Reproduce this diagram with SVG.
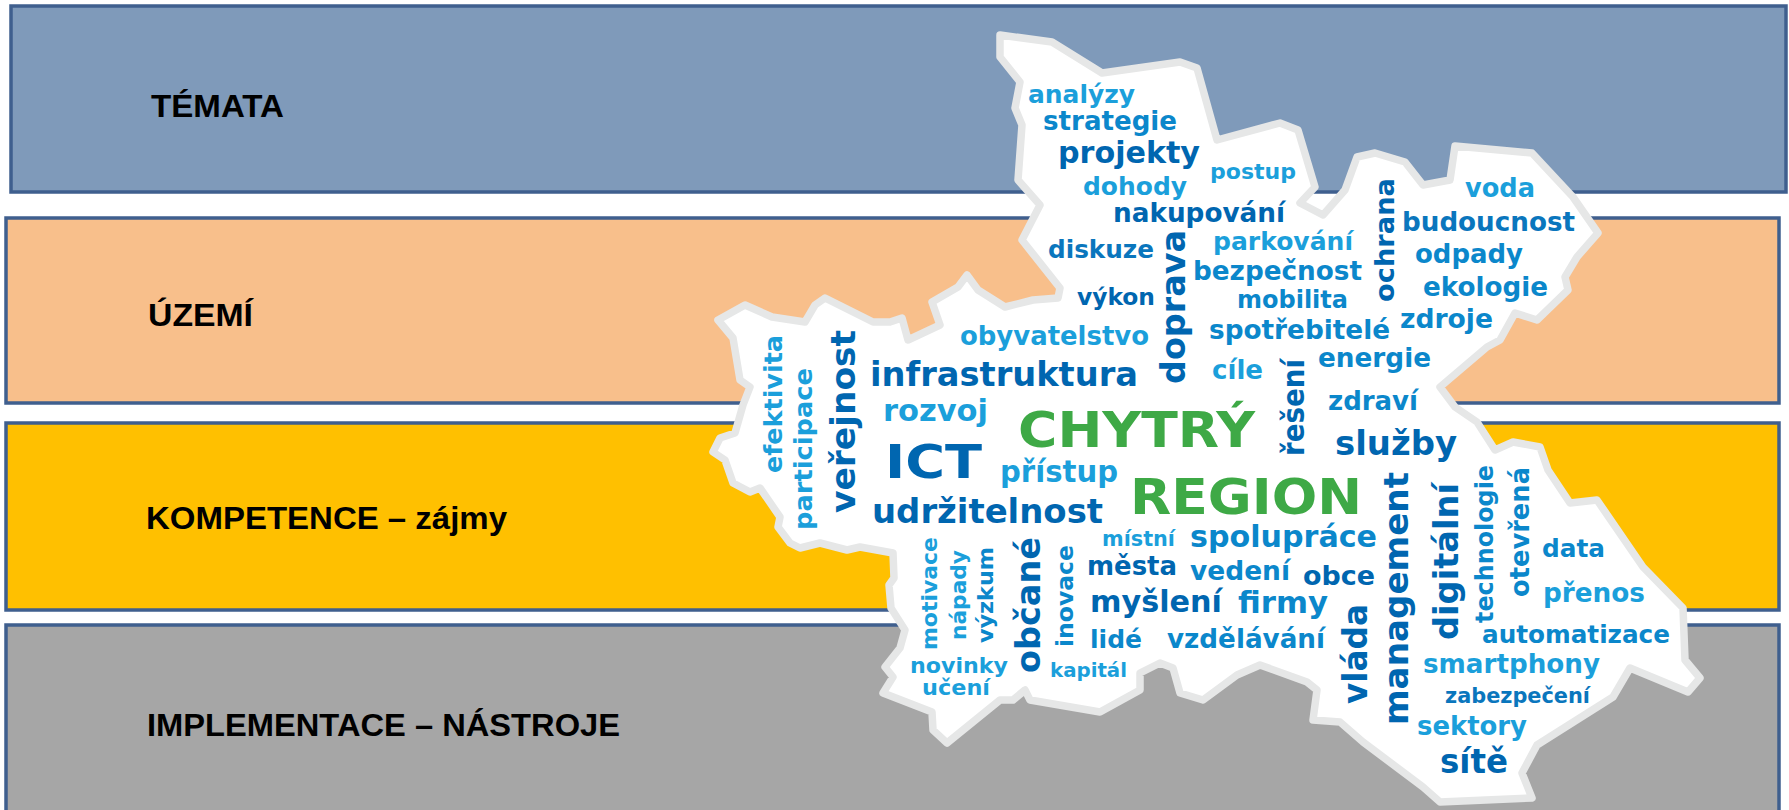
<svg xmlns="http://www.w3.org/2000/svg" width="1789" height="810" viewBox="0 0 1789 810">
<style>
.band{stroke:#3f5f8e;stroke-width:3.5}
.lbl{font-family:"Liberation Sans",Arial,sans-serif;font-weight:bold;font-size:32px;fill:#000}
.w{font-family:"DejaVu Sans",Verdana,sans-serif;font-weight:bold}
.L{fill:#1b9fdb}.M{fill:#0b87cb}.D2{fill:#0a76bd}.D{fill:#0066b0}.G{fill:#3ea946}
</style>
<rect width="1789" height="810" fill="#ffffff"/>
<g id="band-temata"><rect class="band" x="11" y="6" width="1775" height="186" fill="#7f9aba"/><text class="lbl" x="151" y="117" textLength="133" lengthAdjust="spacingAndGlyphs">TÉMATA</text></g>
<g id="band-uzemi"><rect class="band" x="6" y="218" width="1773" height="185" fill="#f8bf8b"/><text class="lbl" x="148" y="326" textLength="105" lengthAdjust="spacingAndGlyphs">ÚZEMÍ</text></g>
<g id="band-kompetence"><rect class="band" x="6" y="423" width="1773" height="187" fill="#ffc000"/><text class="lbl" x="146" y="529" textLength="361" lengthAdjust="spacingAndGlyphs">KOMPETENCE – zájmy</text></g>
<g id="band-implementace"><rect class="band" x="6" y="625" width="1773" height="195" fill="#a6a6a6"/><text class="lbl" x="147" y="736" textLength="473" lengthAdjust="spacingAndGlyphs">IMPLEMENTACE – NÁSTROJE</text></g>
<g id="region-map">
<polygon fill="#ffffff" stroke="#e6e7e7" stroke-width="7.5" stroke-linejoin="round" points="1000,35 1052,42 1102,73 1180,62 1197,68 1217,140 1280,123 1298,130 1315,187 1300,203 1323,215 1345,190 1357,157 1375,153 1405,162 1423,185 1450,180 1455,146 1532,153 1573,197 1598,233 1577,257 1565,277 1568,290 1537,320 1515,313 1500,340 1487,347 1440,387 1455,407 1477,422 1495,450 1513,442 1540,447 1548,470 1570,503 1597,500 1643,567 1683,608 1685,660 1700,678 1688,692 1630,668 1613,697 1537,745 1522,773 1532,798 1440,802 1423,787 1363,742 1340,722 1313,720 1317,690 1307,682 1260,665 1237,675 1203,700 1180,693 1173,668 1160,663 1140,673 1140,690 1100,712 1030,700 1025,690 1013,700 1000,700 947,743 933,730 932,712 883,693 893,677 885,667 900,648 905,630 891,608 889,585 894,578 893,553 860,547 847,550 820,543 800,548 790,543 778,527 780,517 760,488 750,492 733,483 725,460 713,452 720,438 735,433 743,405 750,387 740,380 733,338 718,320 745,305 772,317 805,322 815,305 825,298 873,322 890,322 902,318 908,340 940,325 932,302 958,287 967,275 978,290 1005,307 1033,300 1058,298 1060,288 1022,240 1040,205 1018,180 1022,125 1015,108 1020,82 1000,57"/>
</g>
<g id="word-cloud" class="w">
<text class="L" x="1028" y="103" font-size="24" textLength="107" lengthAdjust="spacingAndGlyphs">analýzy</text>
<text class="M" x="1043" y="130" font-size="26" textLength="134" lengthAdjust="spacingAndGlyphs">strategie</text>
<text class="D" x="1058" y="163" font-size="30" textLength="142" lengthAdjust="spacingAndGlyphs">projekty</text>
<text class="L" x="1083" y="195" font-size="25" textLength="104" lengthAdjust="spacingAndGlyphs">dohody</text>
<text class="L" x="1210" y="179" font-size="22" textLength="86" lengthAdjust="spacingAndGlyphs">postup</text>
<text class="D" x="1113" y="222" font-size="26" textLength="172" lengthAdjust="spacingAndGlyphs">nakupování</text>
<text class="D2" x="1048" y="258" font-size="25" textLength="106" lengthAdjust="spacingAndGlyphs">diskuze</text>
<text class="L" x="1213" y="250" font-size="25" textLength="140" lengthAdjust="spacingAndGlyphs">parkování</text>
<text class="M" x="1193" y="280" font-size="26" textLength="169" lengthAdjust="spacingAndGlyphs">bezpečnost</text>
<text class="D" x="1077" y="305" font-size="23" textLength="78" lengthAdjust="spacingAndGlyphs">výkon</text>
<text class="M" x="1237" y="308" font-size="24" textLength="111" lengthAdjust="spacingAndGlyphs">mobilita</text>
<text class="L" x="1465" y="197" font-size="26" textLength="70" lengthAdjust="spacingAndGlyphs">voda</text>
<text class="D2" x="1402" y="231" font-size="26" textLength="173" lengthAdjust="spacingAndGlyphs">budoucnost</text>
<text class="M" x="1415" y="263" font-size="26" textLength="108" lengthAdjust="spacingAndGlyphs">odpady</text>
<text class="M" x="1423" y="296" font-size="26" textLength="125" lengthAdjust="spacingAndGlyphs">ekologie</text>
<text class="M" x="1400" y="328" font-size="26" textLength="93" lengthAdjust="spacingAndGlyphs">zdroje</text>
<text class="M" x="1209" y="339" font-size="26" textLength="181" lengthAdjust="spacingAndGlyphs">spotřebitelé</text>
<text class="M" x="1318" y="367" font-size="26" textLength="113" lengthAdjust="spacingAndGlyphs">energie</text>
<text class="L" x="1212" y="379" font-size="26" textLength="51" lengthAdjust="spacingAndGlyphs">cíle</text>
<text class="M" x="1328" y="410" font-size="26" textLength="90" lengthAdjust="spacingAndGlyphs">zdraví</text>
<text class="D" x="1335" y="455" font-size="34" textLength="122" lengthAdjust="spacingAndGlyphs">služby</text>
<text class="G" x="1018" y="447" font-size="49" textLength="237" lengthAdjust="spacingAndGlyphs">CHYTRÝ</text>
<text class="G" x="1130" y="514" font-size="50" textLength="232" lengthAdjust="spacingAndGlyphs">REGION</text>
<text class="L" x="1000" y="482" font-size="30" textLength="118" lengthAdjust="spacingAndGlyphs">přístup</text>
<text class="D" x="872" y="523" font-size="34" textLength="231" lengthAdjust="spacingAndGlyphs">udržitelnost</text>
<text class="L" x="1102" y="546" font-size="21" textLength="73" lengthAdjust="spacingAndGlyphs">místní</text>
<text class="M" x="1190" y="547" font-size="30" textLength="187" lengthAdjust="spacingAndGlyphs">spolupráce</text>
<text class="D" x="1087" y="575" font-size="26" textLength="90" lengthAdjust="spacingAndGlyphs">města</text>
<text class="M" x="1190" y="580" font-size="26" textLength="100" lengthAdjust="spacingAndGlyphs">vedení</text>
<text class="D" x="1303" y="585" font-size="27" textLength="72" lengthAdjust="spacingAndGlyphs">obce</text>
<text class="D" x="1090" y="612" font-size="30" textLength="132" lengthAdjust="spacingAndGlyphs">myšlení</text>
<text class="M" x="1238" y="613" font-size="30" textLength="90" lengthAdjust="spacingAndGlyphs">firmy</text>
<text class="M" x="1090" y="648" font-size="25" textLength="52" lengthAdjust="spacingAndGlyphs">lidé</text>
<text class="M" x="1167" y="648" font-size="26" textLength="158" lengthAdjust="spacingAndGlyphs">vzdělávání</text>
<text class="L" x="910" y="673" font-size="22" textLength="98" lengthAdjust="spacingAndGlyphs">novinky</text>
<text class="L" x="922" y="695" font-size="22" textLength="68" lengthAdjust="spacingAndGlyphs">učení</text>
<text class="L" x="1050" y="677" font-size="20" textLength="77" lengthAdjust="spacingAndGlyphs">kapitál</text>
<text class="L" x="960" y="345" font-size="26" textLength="189" lengthAdjust="spacingAndGlyphs">obyvatelstvo</text>
<text class="D" x="870" y="386" font-size="34" textLength="268" lengthAdjust="spacingAndGlyphs">infrastruktura</text>
<text class="L" x="883" y="421" font-size="30" textLength="105" lengthAdjust="spacingAndGlyphs">rozvoj</text>
<text class="D" x="885" y="478" font-size="47" textLength="97" lengthAdjust="spacingAndGlyphs">ICT</text>
<text class="M" x="1542" y="557" font-size="25" textLength="63" lengthAdjust="spacingAndGlyphs">data</text>
<text class="L" x="1543" y="602" font-size="26" textLength="102" lengthAdjust="spacingAndGlyphs">přenos</text>
<text class="M" x="1482" y="643" font-size="25" textLength="188" lengthAdjust="spacingAndGlyphs">automatizace</text>
<text class="L" x="1423" y="673" font-size="26" textLength="177" lengthAdjust="spacingAndGlyphs">smartphony</text>
<text class="D2" x="1445" y="703" font-size="21" textLength="145" lengthAdjust="spacingAndGlyphs">zabezpečení</text>
<text class="L" x="1417" y="735" font-size="26" textLength="110" lengthAdjust="spacingAndGlyphs">sektory</text>
<text class="D" x="1440" y="773" font-size="33" textLength="68" lengthAdjust="spacingAndGlyphs">sítě</text>
<text class="L" transform="translate(782,473) rotate(-90)" font-size="25" textLength="138" lengthAdjust="spacingAndGlyphs">efektivita</text>
<text class="L" transform="translate(812,530) rotate(-90)" font-size="25" textLength="162" lengthAdjust="spacingAndGlyphs">participace</text>
<text class="D" transform="translate(855,513) rotate(-90)" font-size="34" textLength="183" lengthAdjust="spacingAndGlyphs">veřejnost</text>
<text class="D" transform="translate(1185,384) rotate(-90)" font-size="33" textLength="154" lengthAdjust="spacingAndGlyphs">doprava</text>
<text class="D" transform="translate(1394,302) rotate(-90)" font-size="26" textLength="124" lengthAdjust="spacingAndGlyphs">ochrana</text>
<text class="D" transform="translate(1304,456) rotate(-90)" font-size="30" textLength="97" lengthAdjust="spacingAndGlyphs">řešení</text>
<text class="D" transform="translate(1408,725) rotate(-90)" font-size="34" textLength="253" lengthAdjust="spacingAndGlyphs">management</text>
<text class="D" transform="translate(1458,640) rotate(-90)" font-size="34" textLength="157" lengthAdjust="spacingAndGlyphs">digitální</text>
<text class="D" transform="translate(1367,704) rotate(-90)" font-size="33" textLength="100" lengthAdjust="spacingAndGlyphs">vláda</text>
<text class="M" transform="translate(1493,623) rotate(-90)" font-size="24" textLength="158" lengthAdjust="spacingAndGlyphs">technologie</text>
<text class="M" transform="translate(1529,597) rotate(-90)" font-size="26" textLength="130" lengthAdjust="spacingAndGlyphs">otevřená</text>
<text class="L" transform="translate(937,650) rotate(-90)" font-size="22" textLength="113" lengthAdjust="spacingAndGlyphs">motivace</text>
<text class="L" transform="translate(966,640) rotate(-90)" font-size="22" textLength="90" lengthAdjust="spacingAndGlyphs">nápady</text>
<text class="M" transform="translate(993,643) rotate(-90)" font-size="22" textLength="96" lengthAdjust="spacingAndGlyphs">výzkum</text>
<text class="D" transform="translate(1040,673) rotate(-90)" font-size="34" textLength="136" lengthAdjust="spacingAndGlyphs">občané</text>
<text class="M" transform="translate(1073,647) rotate(-90)" font-size="23" textLength="102" lengthAdjust="spacingAndGlyphs">inovace</text>
</g>
</svg>
